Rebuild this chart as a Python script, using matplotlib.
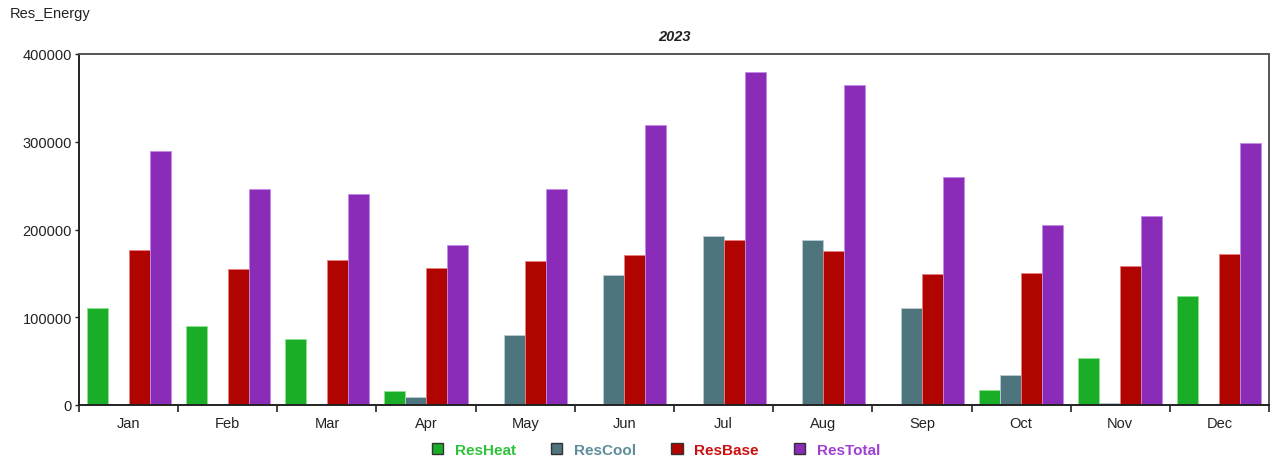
import matplotlib
matplotlib.use("Agg")
import matplotlib.pyplot as plt
import numpy as np
from matplotlib.patches import Patch
from matplotlib.ticker import FixedLocator, NullFormatter

plt.rcParams['font.family'] = ['Liberation Sans', 'DejaVu Sans']

months = ["Jan", "Feb", "Mar", "Apr", "May", "Jun", "Jul", "Aug", "Sep", "Oct", "Nov", "Dec"]
res_heat = [110000, 90000, 75000, 16000, 0, 0, 0, 0, 0, 17500, 53500, 124600]
res_cool = [0, 0, 0, 8800, 79500, 147800, 192200, 188000, 110200, 34500, 2000, 0]
res_base = [176300, 154600, 164900, 156500, 163700, 170900, 188000, 175100, 148900, 150800, 158000, 172400]
res_total = [289500, 245800, 240100, 182300, 245800, 318700, 380000, 364700, 260200, 205500, 215700, 298200]

# name, values, fill, edge highlight, legend text colour
series = [
    ("ResHeat", res_heat, "#1aae28", "#8fe08f", "#2ec23a"),
    ("ResCool", res_cool, "#4e757e", "#b8cdd2", "#5e8c98"),
    ("ResBase", res_base, "#b00400", "#e88080", "#cc1010"),
    ("ResTotal", res_total, "#8a2cb8", "#c58ae6", "#a040d0"),
]

fig = plt.figure(figsize=(12.7, 4.64), dpi=100)
ax = fig.add_axes([79 / 1270, 1 - 406 / 464, 1190 / 1270, 351 / 464])

x = np.arange(len(months))
w = 0.212
for i, (name, vals, fc, ec, _) in enumerate(series):
    ax.bar(x + (i - 1.5) * w, vals, width=w, color=fc, edgecolor=ec, linewidth=0.6)

ax.set_xlim(-0.5, len(months) - 0.5)
ax.set_ylim(0, 400000)
ax.set_yticks([0, 100000, 200000, 300000, 400000])
ax.set_yticklabels(["0", "100000", "200000", "300000", "400000"])
ax.set_xticks(x)
ax.set_xticklabels(months)
ax.xaxis.set_minor_locator(FixedLocator(np.arange(-0.5, len(months), 1.0)))
ax.xaxis.set_minor_formatter(NullFormatter())
ax.tick_params(axis='x', which='major', length=0, pad=8, labelsize=10.5, colors='#222222')
ax.tick_params(axis='x', which='minor', length=5, width=1.2, color='#222222')
ax.tick_params(axis='y', length=3, width=1.0, pad=2, labelsize=10.5, colors='#222222')

for side in ("left", "bottom"):
    ax.spines[side].set_color("#222222")
    ax.spines[side].set_linewidth(1.4)
for side in ("top", "right"):
    ax.spines[side].set_color("#555555")
    ax.spines[side].set_linewidth(1.4)

fig.text(10 / 1270, 1 - 14 / 464, "Res_Energy", fontsize=10.5,
         color="#222222", ha="left", va="center")
fig.text((79 + 1269) / 2 / 1270, 1 - 37 / 464, "2023", fontsize=10.5,
         fontweight="bold", fontstyle="italic", color="#222222", ha="center", va="center")

handles = [Patch(facecolor=fc, edgecolor="#333333", linewidth=1.0) for _, _, fc, _, _ in series]
labels = [s[0] for s in series]
leg = fig.legend(handles, labels, loc="center", bbox_to_anchor=(656 / 1270, 1 - 451 / 464),
                 ncol=4, frameon=False, handlelength=0.75, handleheight=0.75,
                 handletextpad=0.75, columnspacing=2.3,
                 prop={"size": 11, "weight": "bold"},
                 labelcolor=[s[4] for s in series])

fig.savefig("out.png", dpi=100)
